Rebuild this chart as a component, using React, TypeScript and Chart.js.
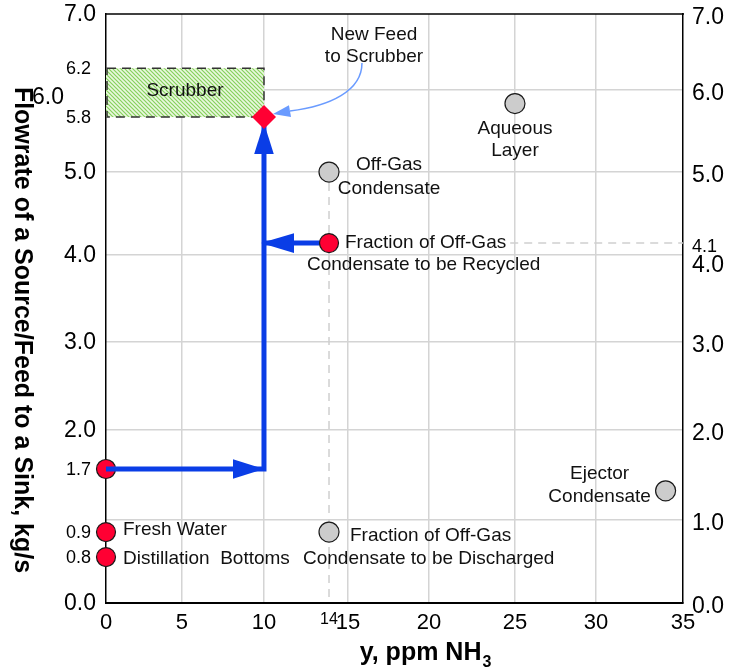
import React, { useEffect, useRef } from 'react';
import { Chart, LinearScale, registerables } from 'chart.js';

const FONT = '"Liberation Sans", Arial, Helvetica, sans-serif';

// ---------------- data ----------------
// fresh sources at y = 0 ppm (combined feed, fresh water, distillation bottoms)
const freshX = [0, 0, 0];
const freshY = [1.7, 0.9, 0.8];
// recycled fraction of off-gas condensate
const recycledX = [14];
const recycledY = [4.1];
// process sources (off-gas condensate, aqueous layer, ejector condensate, discharged fraction)
const sourceX = [14, 25, 34, 14];
const sourceY = [5.0, 5.9, 1.4, 0.9];
// new feed to scrubber (sink point)
const sinkX = [10];
const sinkY = [5.8];
// scrubber constraint box
const scrubberX = [0, 10];
const scrubberY = [5.8, 6.2];
// flow paths (arrows)
const mixPathX = [0, 10, 10];
const mixPathY = [1.7, 1.7, 5.8];
const recyclePathX = [14, 10];
const recyclePathY = [4.1, 4.1];
// ticks
const xTickValues = [0, 5, 10, 14, 15, 20, 25, 30, 35];
const xMinorTicks = [14];
const leftTickValues = [0, 0.8, 0.9, 1.7, 2, 3, 4, 5, 5.8, 6, 6.2, 7];
const leftMinorTicks = [0.8, 0.9, 1.7, 5.8, 6.2];
const leftShiftedTicks = [6];
const rightTickValues = [0, 1, 2, 3, 4, 4.1, 5, 6, 7];
const rightMinorTicks = [4.1];
const rightShiftedTicks = [4];

// axis calibration of the (hand drawn) original axes: value -> fraction of axis length
type Node = [number, number];
const xCalibration: Node[] = [[0, 0], [5, 0.1317], [10, 0.2738], [14, 0.3865], [15, 0.4194], [20, 0.5598], [25, 0.7088], [30, 0.8492], [35, 1]];
const yCalibration: Node[] = [[0, 0], [0.8, 0.078], [0.9, 0.1205], [1, 0.141], [1.7, 0.2275], [2, 0.2937], [3, 0.443], [4, 0.5908], [4.1, 0.611], [5, 0.7317], [5.8, 0.825], [6, 0.871], [6.2, 0.908], [7, 1]];
const CALIB: Record<string, Node[]> = { x: xCalibration, yL: yCalibration, yR: yCalibration };

// annotations
const labelNotes = [
  { x: sinkX[0], y: sinkY[0], lines: ['New Feed', 'to Scrubber'], dx: [110, 110], dy: [-82, -60], align: 'center' },
  { x: sourceX[1], y: sourceY[1], lines: ['Aqueous', 'Layer'], dx: [0, 0], dy: [25, 47], align: 'center' },
  { x: sourceX[0], y: sourceY[0], lines: ['Off-Gas', 'Condensate'], dx: [60, 60], dy: [-7, 17], align: 'center' },
  { x: recycledX[0], y: recycledY[0], lines: ['Fraction of Off-Gas', 'Condensate to be Recycled'], dx: [16, -22], dy: [0, 22], align: 'left' },
  { x: sourceX[2], y: sourceY[2], lines: ['Ejector', 'Condensate'], dx: [-66, -66], dy: [-17, 6], align: 'center' },
  { x: freshX[1], y: freshY[1], lines: ['Fresh Water'], dx: [17], dy: [-2], align: 'left' },
  { x: freshX[2], y: freshY[2], lines: ['Distillation  Bottoms'], dx: [17], dy: [2], align: 'left' },
  { x: sourceX[3], y: sourceY[3], lines: ['Fraction of Off-Gas', 'Condensate to be Discharged'], dx: [21, -26], dy: [4, 27], align: 'left' },
];
const scrubberLabel = 'Scrubber';
const xTitle = 'y, ppm NH';
const xTitleSub = '3';
const yTitle = 'Flowrate of a Source/Feed to a Sink, kg/s';

// ---------------- warped linear scale ----------------
function toDecimal(v: number, nodes: Node[]) {
  for (let i = 1; i < nodes.length; i++) {
    if (v <= nodes[i][0] || i === nodes.length - 1) {
      const [v0, d0] = nodes[i - 1];
      const [v1, d1] = nodes[i];
      return d0 + ((v - v0) / (v1 - v0)) * (d1 - d0);
    }
  }
  return 0;
}
function fromDecimal(d: number, nodes: Node[]) {
  for (let i = 1; i < nodes.length; i++) {
    if (d <= nodes[i][1] || i === nodes.length - 1) {
      const [v0, d0] = nodes[i - 1];
      const [v1, d1] = nodes[i];
      return v0 + ((d - d0) / (d1 - d0)) * (v1 - v0);
    }
  }
  return 0;
}

class WarpScale extends LinearScale {
  static id = 'warp';
  static defaults = LinearScale.defaults;
  getPixelForValue(value: any) {
    if (value === null || value === undefined || Number.isNaN(+value)) return NaN;
    const nodes = CALIB[(this as any).id] || [[(this as any).min, 0], [(this as any).max, 1]];
    return (this as any).getPixelForDecimal(toDecimal(+value, nodes));
  }
  getValueForPixel(pixel: number) {
    const nodes = CALIB[(this as any).id] || [[(this as any).min, 0], [(this as any).max, 1]];
    return fromDecimal((this as any).getDecimalForPixel(pixel), nodes);
  }
}

Chart.register(...registerables, WarpScale as any);

const BLUE = '#0a3de6';
const RED = '#ff0033';
const GRAY = '#cccccc';
const GRID = '#d4d4d4';

const toPts = (xs: number[], ys: number[]) => xs.map((x, i) => ({ x, y: ys[i] }));

function makePattern() {
  const p = document.createElement('canvas');
  p.width = 4;
  p.height = 4;
  const c = p.getContext('2d')!;
  c.fillStyle = '#eaf8df';
  c.fillRect(0, 0, 4, 4);
  c.strokeStyle = '#86d15c';
  c.lineWidth = 1.2;
  c.beginPath();
  c.moveTo(0, 0); c.lineTo(4, 4);
  c.moveTo(-2, 2); c.lineTo(2, 6);
  c.moveTo(2, -2); c.lineTo(6, 2);
  c.stroke();
  return p;
}

const decorPlugin = {
  id: 'decor',
  beforeDatasetsDraw(chart: any) {
    const { ctx, chartArea: a, scales } = chart;
    const sx = scales.x;
    const sy = scales.yL;
    ctx.save();
    // top frame line
    ctx.strokeStyle = '#000';
    ctx.lineWidth = 1.5;
    ctx.beginPath();
    ctx.moveTo(a.left - 1, a.top);
    ctx.lineTo(a.right + 1, a.top);
    ctx.stroke();

    // dashed guide lines
    ctx.strokeStyle = '#cfcfcf';
    ctx.lineWidth = 1.5;
    ctx.setLineDash([8, 6]);
    const gx = sx.getPixelForValue(sourceX[0]);
    ctx.beginPath();
    ctx.moveTo(gx, sy.getPixelForValue(sourceY[0]) + 11);
    ctx.lineTo(gx, a.bottom);
    ctx.stroke();
    ctx.font = `19px ${FONT}`;
    const note = labelNotes[3];
    const textEnd = sx.getPixelForValue(note.x) + note.dx[0] + ctx.measureText(note.lines[0]).width + 4;
    const gy = sy.getPixelForValue(recycledY[0]);
    ctx.beginPath();
    ctx.moveTo(textEnd, gy);
    ctx.lineTo(a.right, gy);
    ctx.stroke();
    ctx.setLineDash([]);

    // scrubber box
    const x0 = sx.getPixelForValue(scrubberX[0]);
    const x1 = sx.getPixelForValue(scrubberX[1]);
    const y0 = sy.getPixelForValue(scrubberY[1]);
    const y1 = sy.getPixelForValue(scrubberY[0]);
    const pat = ctx.createPattern(makePattern(), 'repeat');
    ctx.fillStyle = pat || '#c5eab0';
    ctx.fillRect(x0, y0, x1 - x0, y1 - y0);
    ctx.strokeStyle = '#333';
    ctx.lineWidth = 1.5;
    ctx.setLineDash([9, 6]);
    ctx.strokeRect(x0 + 1, y0, x1 - x0 - 1, y1 - y0);
    ctx.setLineDash([]);
    ctx.fillStyle = '#111';
    ctx.font = `19px ${FONT}`;
    ctx.textAlign = 'center';
    ctx.textBaseline = 'middle';
    ctx.fillText(scrubberLabel, (x0 + x1) / 2, (y0 + y1) / 2 - 2);
    ctx.restore();
  },
  afterDatasetDraw(chart: any, args: any) {
    const ds = chart.data.datasets[args.index];
    if (!ds.arrowHeads) return;
    const { ctx, scales } = chart;
    const sx = scales.x;
    const sy = scales.yL;
    const pts = ds.data.map((p: any) => ({ x: sx.getPixelForValue(p.x), y: sy.getPixelForValue(p.y) }));
    ctx.save();
    ctx.fillStyle = ds.borderColor;
    for (let i = 0; i < pts.length - 1; i++) {
      const p0 = pts[i];
      const p1 = pts[i + 1];
      const len = Math.hypot(p1.x - p0.x, p1.y - p0.y);
      const ux = (p1.x - p0.x) / len;
      const uy = (p1.y - p0.y) / len;
      const back = ds.arrowBackoff[i];
      const tx = p1.x - ux * back;
      const ty = p1.y - uy * back;
      const bx = tx - ux * ds.headLength;
      const by = ty - uy * ds.headLength;
      const hw = ds.headHalfWidth;
      ctx.beginPath();
      ctx.moveTo(tx, ty);
      ctx.lineTo(bx - uy * hw, by + ux * hw);
      ctx.lineTo(bx + uy * hw, by - ux * hw);
      ctx.closePath();
      ctx.fill();
    }
    ctx.restore();
  },
  afterDatasetsDraw(chart: any) {
    const { ctx, scales } = chart;
    const sx = scales.x;
    const sy = scales.yL;
    ctx.save();
    // text notes
    ctx.fillStyle = '#111';
    ctx.font = `19px ${FONT}`;
    ctx.textBaseline = 'middle';
    labelNotes.forEach((n) => {
      const px = sx.getPixelForValue(n.x);
      const py = sy.getPixelForValue(n.y);
      ctx.textAlign = n.align as CanvasTextAlign;
      n.lines.forEach((t, i) => ctx.fillText(t, px + n.dx[i], py + n.dy[i]));
    });
    // curved arrow: "New Feed to Scrubber" -> sink
    const dx = sx.getPixelForValue(sinkX[0]);
    const dy = sy.getPixelForValue(sinkY[0]);
    ctx.strokeStyle = '#6a9bff';
    ctx.fillStyle = '#6a9bff';
    ctx.lineWidth = 1.5;
    ctx.beginPath();
    ctx.moveTo(dx + 98, dy - 54);
    ctx.bezierCurveTo(dx + 98, dy - 26, dx + 66, dy - 11, dx + 26, dy - 6);
    ctx.stroke();
    const tipX = dx + 9;
    const tipY = dy - 3;
    const bX = dx + 26;
    const bY = dy - 6;
    const l = Math.hypot(bX - tipX, bY - tipY);
    const ux = (tipX - bX) / l;
    const uy = (tipY - bY) / l;
    ctx.beginPath();
    ctx.moveTo(tipX, tipY);
    ctx.lineTo(bX - uy * 6, bY + ux * 6);
    ctx.lineTo(bX + uy * 6, bY - ux * 6);
    ctx.closePath();
    ctx.fill();
    ctx.restore();
  },
  afterDraw(chart: any) {
    const { ctx } = chart;
    ctx.save();
    ctx.fillStyle = '#000';
    // y title (reads top to bottom)
    ctx.translate(22, 330);
    ctx.rotate(Math.PI / 2);
    ctx.font = `bold 25px ${FONT}`;
    ctx.textAlign = 'center';
    ctx.textBaseline = 'middle';
    ctx.fillText(yTitle, 0, 0);
    ctx.restore();
    // x title with subscript
    ctx.save();
    ctx.fillStyle = '#000';
    ctx.font = `bold 25px ${FONT}`;
    const w1 = ctx.measureText(xTitle).width;
    ctx.font = `bold 16px ${FONT}`;
    const w2 = ctx.measureText(xTitleSub).width;
    const start = 425 - (w1 + w2) / 2;
    ctx.textAlign = 'left';
    ctx.textBaseline = 'alphabetic';
    ctx.font = `bold 25px ${FONT}`;
    ctx.fillText(xTitle, start, 660);
    ctx.font = `bold 16px ${FONT}`;
    ctx.fillText(xTitleSub, start + w1 + 1, 667);
    ctx.restore();
  },
};

export default function App() {
  const ref = useRef<HTMLCanvasElement | null>(null);
  useEffect(() => {
    document.body.style.margin = '0';
    const canvas = ref.current!;
    const setTicks = (vals: number[]) => (s: any) => {
      s.ticks = vals.map((v) => ({ value: v }));
    };
    const noPad = (s: any) => {
      s.paddingTop = 0;
      s.paddingBottom = 0;
      s.paddingLeft = 0;
      s.paddingRight = 0;
    };
    const tickFont = (minor: number[], shifted: number[], big: number, small: number) => (c: any) => {
      const v = c && c.tick ? c.tick.value : null;
      if (v !== null && minor.includes(v)) return { family: FONT, size: small };
      if (v !== null && shifted.includes(v)) return { family: FONT, size: big, lineHeight: 0.55 };
      return { family: FONT, size: big };
    };
    const chart = new Chart(canvas, {
      type: 'scatter',
      data: {
        datasets: [
          {
            label: 'New Feed to Scrubber',
            data: toPts(sinkX, sinkY),
            xAxisID: 'x', yAxisID: 'yL', clip: false,
            pointStyle: 'rectRot', pointRadius: 12, backgroundColor: RED, borderColor: RED, borderWidth: 0,
          },
          {
            label: 'Recycled fraction',
            data: toPts(recycledX, recycledY),
            xAxisID: 'x', yAxisID: 'yL', clip: false,
            pointRadius: 9.5, backgroundColor: RED, borderColor: '#1a1a1a', borderWidth: 1.2,
          },
          {
            label: 'Sources',
            data: toPts(sourceX, sourceY),
            xAxisID: 'x', yAxisID: 'yL', clip: false,
            pointRadius: 10, backgroundColor: GRAY, borderColor: '#1a1a1a', borderWidth: 1.2,
          },
          {
            label: 'Mixing path',
            data: toPts(mixPathX, mixPathY),
            xAxisID: 'x', yAxisID: 'yL', clip: false,
            showLine: true, borderColor: BLUE, backgroundColor: BLUE, borderWidth: 5, pointRadius: 0,
            borderCapStyle: 'butt', borderJoinStyle: 'miter',
            arrowHeads: true, arrowBackoff: [0, 6], headLength: 31, headHalfWidth: 9.8,
          } as any,
          {
            label: 'Recycle path',
            data: toPts(recyclePathX, recyclePathY),
            xAxisID: 'x', yAxisID: 'yL', clip: false,
            showLine: true, borderColor: BLUE, backgroundColor: BLUE, borderWidth: 5, pointRadius: 0,
            borderCapStyle: 'butt',
            arrowHeads: true, arrowBackoff: [-3], headLength: 33, headHalfWidth: 9.8,
          } as any,
          {
            label: 'Fresh sources',
            data: toPts(freshX, freshY),
            xAxisID: 'x', yAxisID: 'yL', clip: false,
            pointRadius: 9.5, backgroundColor: RED, borderColor: '#1a1a1a', borderWidth: 1.2,
          },
        ],
      },
      options: {
        animation: false,
        responsive: false,
        events: [],
        layout: { padding: { top: 14, left: 0, right: 0, bottom: 0 } },
        plugins: { legend: { display: false }, tooltip: { enabled: false }, title: { display: false } },
        scales: {
          x: {
            type: 'warp' as any, position: 'bottom', min: 0, max: 35,
            afterBuildTicks: setTicks(xTickValues),
            afterFit: (s: any) => { s.height = 69; noPad(s); },
            grid: {
              drawTicks: false, lineWidth: 1.5,
              color: (c: any) => (c.tick && c.tick.value > 0 && c.tick.value < 35 && !xMinorTicks.includes(c.tick.value) ? GRID : 'rgba(0,0,0,0)'),
            },
            border: { display: true, color: '#000', width: 2 },
            ticks: { color: '#000', padding: 7, autoSkip: false, maxRotation: 0, font: tickFont(xMinorTicks, [], 22, 16) as any, callback: (v: any) => String(v) },
          },
          yL: {
            type: 'warp' as any, position: 'left', axis: 'y', min: 0, max: 7,
            afterBuildTicks: setTicks(leftTickValues),
            afterFit: (s: any) => { s.width = 106; noPad(s); },
            grid: { display: false, drawTicks: false },
            border: { display: true, color: '#000', width: 1.5 },
            ticks: {
              color: '#000', padding: 10, autoSkip: false, labelOffset: 1,
              font: tickFont(leftMinorTicks, leftShiftedTicks, 23, 18) as any,
              callback: (v: any) => {
                const n = Number(v);
                if (leftShiftedTicks.includes(n)) return ['', n.toFixed(1) + '     '];
                if (leftMinorTicks.includes(n)) return n.toFixed(1) + ' ';
                return n.toFixed(1);
              },
            },
          },
          yR: {
            type: 'warp' as any, position: 'right', axis: 'y', min: 0, max: 7,
            afterBuildTicks: setTicks(rightTickValues),
            afterFit: (s: any) => { s.width = 49; noPad(s); },
            grid: {
              drawTicks: false, lineWidth: 1.5,
              color: (c: any) => (c.tick && c.tick.value > 0 && c.tick.value < 7 && !rightMinorTicks.includes(c.tick.value) ? GRID : 'rgba(0,0,0,0)'),
            },
            border: { display: true, color: '#000', width: 1.5 },
            ticks: {
              color: '#000', padding: 9, autoSkip: false, labelOffset: 4,
              font: tickFont(rightMinorTicks, rightShiftedTicks, 23, 18) as any,
              callback: (v: any) => (rightShiftedTicks.includes(Number(v)) ? ['', Number(v).toFixed(1)] : Number(v).toFixed(1)),
            },
          },
        } as any,
      },
      plugins: [decorPlugin],
    });
    return () => chart.destroy();
  }, []);
  return (
    <div style={{ width: 732, height: 672, position: 'relative' }}>
      <canvas ref={ref} width={732} height={672} style={{ display: 'block' }} />
    </div>
  );
}
